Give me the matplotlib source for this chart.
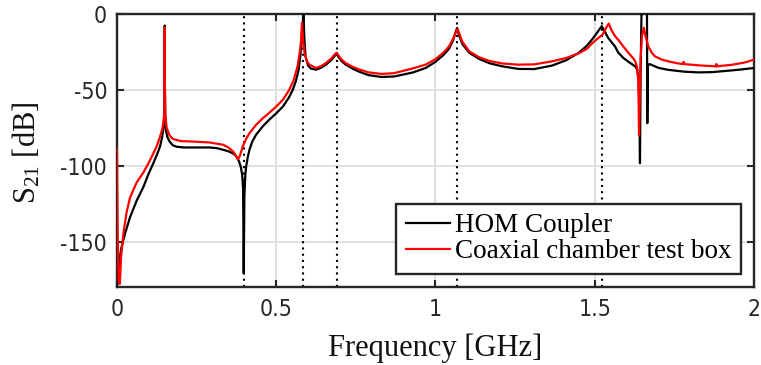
import numpy as np
import matplotlib
matplotlib.use('Agg')
import matplotlib.pyplot as plt
from matplotlib import font_manager

# HOM coupler transmission (GHz, dB)
hom_freq = [0, 0.004, 0.008, 0.014, 0.025, 0.041, 0.062, 0.083, 0.100, 0.114,
            0.125, 0.135, 0.142, 0.146, 0.1485, 0.1498, 0.150, 0.1502, 0.1515, 0.154,
            0.158, 0.165, 0.175, 0.187, 0.210, 0.239, 0.265, 0.291, 0.315, 0.333,
            0.350, 0.365, 0.375, 0.383, 0.389, 0.393, 0.396, 0.398, 0.400, 0.403,
            0.406, 0.411, 0.416, 0.425, 0.437, 0.458, 0.479, 0.50, 0.521, 0.540,
            0.552, 0.562, 0.570, 0.576, 0.580, 0.583, 0.5855, 0.588, 0.592, 0.600,
            0.609, 0.625, 0.640, 0.656, 0.672, 0.684, 0.690, 0.696, 0.705, 0.719,
            0.740, 0.760, 0.79, 0.83, 0.87, 0.93, 0.97, 1.00, 1.025, 1.042,
            1.055, 1.063, 1.068, 1.074, 1.085, 1.106, 1.136, 1.17, 1.21, 1.26,
            1.31, 1.366, 1.41, 1.449, 1.475, 1.491, 1.505, 1.515, 1.522, 1.530,
            1.543, 1.564, 1.574, 1.590, 1.606, 1.620, 1.627, 1.633, 1.637, 1.640,
            1.642, 1.644, 1.647, 1.650, 1.660, 1.664, 1.665, 1.667, 1.672, 1.679,
            1.70, 1.731, 1.78, 1.825, 1.87, 1.908, 1.95, 2.0]
hom_s21 = [-180, -170, -162, -154, -145, -134, -123, -114, -105, -98.5,
           -93, -87.5, -81, -75, -68, -45, -7.6, -45, -70, -77,
           -81, -84, -86.5, -87.5, -88, -88, -88, -88, -88.5, -89.5,
           -90.5, -92, -94, -97, -101, -106, -115, -171, -120, -106,
           -100, -94, -89.5, -84, -79.5, -74, -69.5, -65.5, -61, -55,
           -50, -44, -37, -27, -17, -8, 3, -15, -28, -34,
           -36, -36.7, -35.5, -33.4, -30.5, -27.5, -26.3, -28.5, -31, -33.5,
           -36, -38, -40.3, -41.5, -41.2, -38.5, -35.5, -31.5, -27, -23,
           -17.5, -12, -9.2, -14, -20, -25.5, -29.5, -32.5, -34.5, -36.2,
           -36.3, -34, -30.5, -25.7, -21, -17, -13, -10, -8, -11,
           -16, -21.5, -25.5, -29, -31.5, -33.5, -34.5, -36.5, -42, -60,
           -98.4, -40, 3, 3, 3, 3, -72, -34, -33, -33.6,
           -35.5, -36.8, -38, -38.5, -38.3, -37.6, -36.8, -35.6]

# coaxial chamber test box
box_freq = [0, 0.002, 0.005, 0.009, 0.013, 0.020, 0.030, 0.041, 0.062, 0.083,
            0.100, 0.114, 0.125, 0.135, 0.142, 0.146, 0.1485, 0.1495, 0.150, 0.1505,
            0.152, 0.156, 0.165, 0.175, 0.200, 0.239, 0.291, 0.333, 0.350, 0.365,
            0.375, 0.380, 0.385, 0.395, 0.405, 0.416, 0.437, 0.458, 0.479, 0.50,
            0.521, 0.541, 0.555, 0.567, 0.574, 0.578, 0.581, 0.584, 0.589, 0.596,
            0.604, 0.625, 0.640, 0.656, 0.672, 0.684, 0.690, 0.696, 0.705, 0.719,
            0.740, 0.760, 0.79, 0.83, 0.87, 0.93, 0.97, 1.00, 1.025, 1.042,
            1.055, 1.063, 1.069, 1.075, 1.085, 1.106, 1.136, 1.17, 1.21, 1.26,
            1.31, 1.366, 1.41, 1.449, 1.475, 1.491, 1.510, 1.525, 1.536, 1.544,
            1.552, 1.564, 1.574, 1.590, 1.606, 1.620, 1.627, 1.633, 1.637, 1.639,
            1.641, 1.644, 1.648, 1.654, 1.660, 1.668, 1.679, 1.689, 1.71, 1.731,
            1.76, 1.778, 1.779, 1.780, 1.83, 1.881, 1.882, 1.883, 1.93, 1.97, 2.0]
box_s21 = [-89, -140, -175, -178, -160, -145, -131, -121, -111, -104.5,
           -98, -92, -87, -81, -76, -71, -65, -45, -9, -45,
           -66, -75, -80, -82.3, -83.8, -84.1, -84.7, -86.2, -88, -90.7,
           -94, -95.8, -94, -87.4, -82.5, -78.6, -73, -68.7, -65, -61,
           -56.5, -50, -43.5, -34.5, -25, -17, -5.8, -17, -25.7, -31,
           -33.4, -35.6, -34.5, -32.3, -29.5, -26.5, -25.5, -27.5, -30, -32.5,
           -34.8, -36.5, -38.5, -39.5, -39, -35.8, -33.3, -29.7, -25.5, -21.5,
           -16.5, -12.5, -10, -13, -18.5, -24.6, -28.4, -31, -32.6, -33.4,
           -33.2, -31.2, -29, -26, -23, -19.5, -16, -13.5, -9, -6.3,
           -10.5, -14.7, -17, -21.5, -25.7, -29, -31.2, -35, -45, -80,
           -60, -30, -15, -9.1, -15, -21.3, -25.5, -27.9, -30, -31.2,
           -32.5, -33, -31.5, -33, -33.9, -34.5, -33, -34.5, -33.5, -32, -30.1]

# resonance markers (GHz)
marker_freq = [0.398, 0.585, 0.690, 1.068, 1.522]

x_ticks = [0, 0.5, 1, 1.5, 2]
x_tick_labels = ['0', '0.5', '1', '1.5', '2']
y_ticks = [-150, -100, -50, 0]

plt.rcParams['axes.unicode_minus'] = False
plt.rcParams['mathtext.fontset'] = 'custom'
plt.rcParams['mathtext.rm'] = 'Liberation Serif'
plt.rcParams['mathtext.it'] = 'Liberation Serif:italic'

serif = ['Liberation Serif', 'DejaVu Serif']
dark = '#262626'

# tick labels use a narrow sans; pick one that is installed
fonts = font_manager.fontManager.ttflist
if any(f.name == 'Liberation Sans Narrow' for f in fonts):
    tick_font = dict(family='Liberation Sans Narrow', size=19)
elif any(f.name == 'DejaVu Sans' and f.stretch == 'condensed' for f in fonts):
    tick_font = dict(family='DejaVu Sans', stretch='condensed', size=16.5)
else:
    tick_font = dict(family='Liberation Sans', size=16)

fig = plt.figure(figsize=(7.61, 3.65), dpi=100)
ax = fig.add_axes([0.1537, 0.2137, 0.8371, 0.7479])

for f in marker_freq:
    ax.axvline(f, color='black', lw=1.5, ls=(0, (1, 2)), zorder=2)

ax.plot(hom_freq, hom_s21, color='black', lw=1.6, label='HOM Coupler', zorder=3)
ax.plot(box_freq, box_s21, color='red', lw=1.6, label='Coaxial chamber test box', zorder=4)

ax.set_xlim(0, 2)
ax.set_ylim(-180, 0)
ax.set_xticks(x_ticks)
ax.set_xticklabels(x_tick_labels)
ax.set_yticks(y_ticks)
ax.grid(True, color='#dcdcdc', lw=1.3, zorder=0)
ax.set_axisbelow(True)

for s in ax.spines.values():
    s.set_color(dark)
    s.set_linewidth(1.7)
ax.tick_params(direction='in', length=5, width=1.5, color=dark, top=True, right=True,
               labelcolor=dark, pad=7)
for lab in ax.get_xticklabels() + ax.get_yticklabels():
    lab.set_fontproperties(font_manager.FontProperties(**tick_font))
ax.tick_params(axis='x', pad=8)

ax.set_xlabel('Frequency [GHz]', family=serif, fontsize=22, color='#111111')
ax.xaxis.label.set_va('center')
ax.xaxis.set_label_coords(0.5, -0.223)
ax.set_ylabel(r'S$_{\mathrm{21}}$ [dB]', family=serif, fontsize=22, color='#111111')
ax.yaxis.label.set_va('center')
ax.yaxis.set_label_coords(-0.141, 0.493)

leg = ax.legend(loc='lower right', bbox_to_anchor=(0.98, 0.048), prop={'family': serif, 'size': 19.5},
                fancybox=False, framealpha=1, edgecolor=dark, borderpad=0.35,
                labelspacing=0.05, handlelength=1.62, handletextpad=0.2, borderaxespad=0)
leg.get_frame().set_linewidth(1.7)
leg.set_zorder(10)

plt.savefig('out.png', dpi=100)
